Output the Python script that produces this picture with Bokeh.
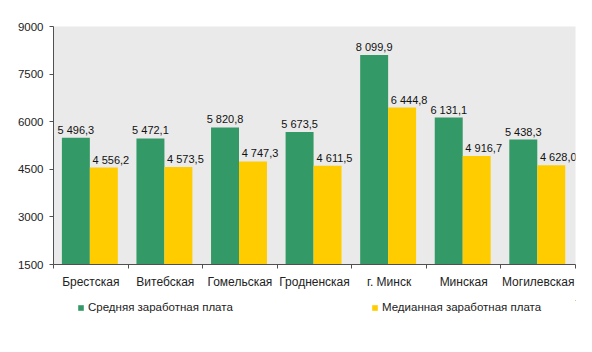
from bokeh.plotting import figure
from bokeh.layouts import column
from bokeh.models import (ColumnDataSource, FixedTicker, Legend, LegendItem, Range1d)
from bokeh.core.properties import value
from bokeh.embed import file_html
from bokeh.resources import INLINE

regions = ["Брестская", "Витебская", "Гомельская", "Гродненская", "г. Минск", "Минская", "Могилевская"]
avg_wage = [5496.3, 5472.1, 5820.8, 5673.5, 8099.9, 6131.1, 5438.3]
median_wage = [4556.2, 4573.5, 4747.3, 4611.5, 6444.8, 4916.7, 4628.0]
y_ticks = [1500, 3000, 4500, 6000, 7500, 9000]
series_names = ["Средняя заработная плата", "Медианная заработная плата"]

GREEN = "#339966"
YELLOW = "#FFCC00"
FONT = "Liberation Sans"

def fmt(v):
    return f"{v:,.1f}".replace(",", " ").replace(".", ",")

n = len(regions)
bw = 0.375
idx = list(range(n))
src = ColumnDataSource(dict(
    xg=[i + 0.1125 + bw / 2 for i in idx],
    xy=[i + 0.1125 + bw * 1.5 for i in idx],
    avg=avg_wage,
    med=median_wage,
    lavg=[fmt(v) for v in avg_wage],
    lmed=[fmt(v) for v in median_wage],
))

p = figure(width=592, height=300, output_backend="svg", toolbar_location=None,
           x_range=Range1d(0, n), y_range=Range1d(1500, 9000),
           min_border_left=53, min_border_right=17, min_border_top=26, min_border_bottom=36)
p.background_fill_color = "#EAEAEA"
p.border_fill_color = "white"
p.outline_line_color = None
p.grid.visible = False

p.vbar(x="xg", width=bw, top="avg", bottom=1500, source=src, fill_color=GREEN, line_color=None)
p.vbar(x="xy", width=bw, top="med", bottom=1500, source=src, fill_color=YELLOW, line_color=None)

p.text(x="xg", y="avg", text="lavg", source=src, text_align="center", text_baseline="alphabetic",
       y_offset=-8, text_font=value(FONT), text_font_size="11px", text_color="#111111")
p.text(x="xy", y="med", text="lmed", source=src, text_align="center", text_baseline="alphabetic",
       x_offset=7, y_offset=-8, text_font=value(FONT), text_font_size="11px", text_color="#111111")

# Y axis
ya = p.yaxis[0]
ya.ticker = FixedTicker(ticks=y_ticks)
ya.major_tick_out = 4
ya.major_tick_in = 0
ya.minor_tick_line_color = None
ya.axis_line_color = "#505050"
ya.major_tick_line_color = "#505050"
ya.major_label_text_font = FONT
ya.major_label_text_font_size = "11.5px"
ya.major_label_text_color = "#222222"
ya.major_label_standoff = 6

# X axis: labels at centres, tick marks at category boundaries
xa = p.xaxis[0]
centers = [i + 0.5 for i in idx]
xa.ticker = FixedTicker(ticks=centers, minor_ticks=list(range(n + 1)))
xa.major_label_overrides = {c: r for c, r in zip(centers, regions)}
xa.major_tick_line_color = None
xa.minor_tick_out = 4
xa.minor_tick_in = 0
xa.minor_tick_line_color = "#505050"
xa.axis_line_color = "#505050"
xa.major_label_text_font = FONT
xa.major_label_text_font_size = "12px"
xa.major_label_text_color = "#222222"
xa.major_label_standoff = 4

# Legend strip below the chart (its own renderers lie far outside its visible range)
lf = figure(width=592, height=52, output_backend="svg", toolbar_location=None,
            x_range=Range1d(-100, -100 + n), y_range=Range1d(-20000, -19999),
            x_axis_location=None, y_axis_location=None,
            min_border_left=53, min_border_right=17, min_border_top=0, min_border_bottom=0)
lf.outline_line_color = None
lf.grid.visible = False
lf.background_fill_color = "white"
r1 = lf.vbar(x="xg", top="avg", bottom=1500, width=bw, source=src, fill_color=GREEN, line_color=None)
r2 = lf.vbar(x="xy", top="med", bottom=1500, width=bw, source=src, fill_color=YELLOW, line_color=None)

legend = Legend(items=[LegendItem(label=series_names[0], renderers=[r1]),
                       LegendItem(label=series_names[1], renderers=[r2])],
                location=(24, 39), orientation="horizontal", padding=0, margin=0, spacing=123,
                glyph_width=7, glyph_height=7, label_standoff=4, label_width=160,
                label_text_font=FONT, label_text_font_size="11.5px", label_text_color="#222222",
                background_fill_alpha=0, border_line_color=None)
lf.add_layout(legend, "center")

layout = column(p, lf, spacing=0)
open("out.html", "w").write(file_html(layout, INLINE))
